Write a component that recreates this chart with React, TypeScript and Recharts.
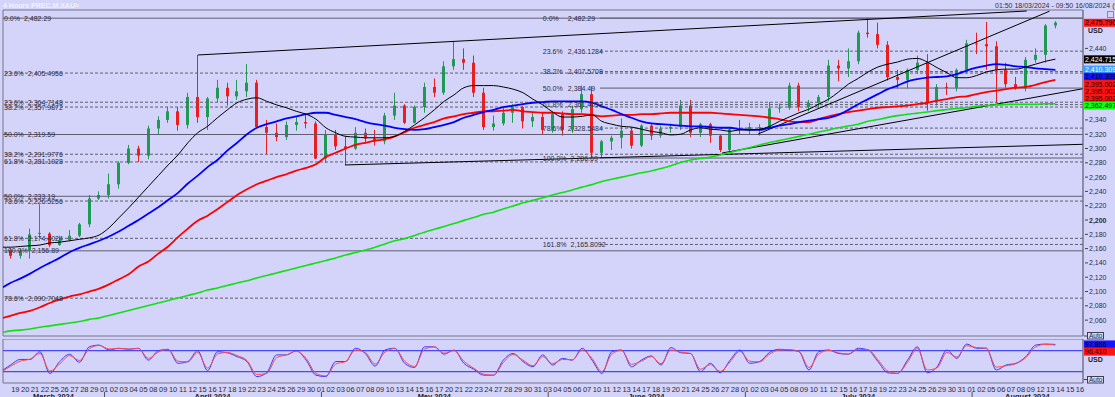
import React from 'react';
import {
  ComposedChart,
  LineChart,
  Line,
  Bar,
  XAxis,
  YAxis,
  ReferenceLine,
  ReferenceDot,
  ReferenceArea,
} from 'recharts';

const BG = '#d4d4fa';
const FONT = '"Liberation Sans", Arial, sans-serif';
const FRAME = '#74748a';
const LEVEL = '#5e5e70';
const TEXT = '#2c2c38';
const UP = '#1f9a55';
const DOWN = '#ee1c1c';

// ---- trading days (day of month) ----
const marchDays = [18, 19, 20, 21, 22, 25, 26, 27, 28, 29];
const aprilDays = [1, 2, 3, 4, 5, 8, 9, 10, 11, 12, 15, 16, 17, 18, 19, 22, 23, 24, 25, 26, 29, 30];
const mayDays = [1, 2, 3, 6, 7, 8, 9, 10, 13, 14, 15, 16, 17, 20, 21, 22, 23, 24, 27, 28, 29, 30, 31];
const juneDays = [3, 4, 5, 6, 7, 10, 11, 12, 13, 14, 17, 18, 19, 20, 21, 24, 25, 26, 27, 28];
const julyDays = [1, 2, 3, 4, 5, 8, 9, 10, 11, 12, 15, 16, 17, 18, 19, 22, 23, 24, 25, 26, 29, 30, 31];
const augustDays = [1, 2, 5, 6, 7, 8, 9, 12, 13, 14, 15, 16];
const monthNames = ['March 2024', 'April 2024', 'May 2024', 'June 2024', 'July 2024', 'August 2024'];

// ---- daily OHLC (Mar 18 .. Aug 13) ----
const opens = [
  2158, 2150, 2157, 2181, 2181, 2165, 2172, 2178, 2194, 2230,
  2235, 2250, 2280, 2300, 2290, 2328, 2340, 2352, 2333, 2372,
  2344, 2370, 2385, 2373, 2380, 2392, 2330, 2322, 2316, 2333,
  2337, 2335, 2286, 2320, 2303, 2300, 2322, 2314, 2310, 2346,
  2360, 2336, 2358, 2386, 2378, 2415, 2425, 2420, 2378, 2330,
  2335, 2350, 2358, 2338, 2344, 2326, 2348, 2326, 2355, 2376,
  2294, 2310, 2315, 2325, 2304, 2332, 2318, 2328, 2330, 2360,
  2322, 2334, 2318, 2298, 2327, 2326, 2330, 2330, 2356, 2357,
  2388, 2358, 2364, 2372, 2416, 2412, 2422, 2462, 2460, 2445,
  2400, 2396, 2410, 2420, 2365, 2386, 2385, 2410, 2447, 2446,
  2443, 2410, 2390, 2384, 2424, 2431, 2472,
];
const highs = [
  2160, 2160, 2188, 2222, 2183, 2178, 2186, 2196, 2235, 2240,
  2265, 2282, 2305, 2304, 2332, 2345, 2358, 2358, 2378, 2431,
  2372, 2396, 2392, 2396, 2418, 2396, 2340, 2335, 2338, 2345,
  2347, 2338, 2326, 2326, 2318, 2330, 2328, 2326, 2350, 2378,
  2362, 2360, 2392, 2398, 2422, 2450, 2440, 2430, 2385, 2346,
  2358, 2362, 2360, 2350, 2350, 2352, 2352, 2360, 2388, 2387,
  2312, 2318, 2342, 2330, 2334, 2334, 2332, 2335, 2368, 2368,
  2336, 2336, 2320, 2330, 2340, 2336, 2334, 2365, 2363, 2392,
  2392, 2368, 2375, 2424, 2424, 2440, 2465, 2483, 2476, 2450,
  2410, 2412, 2430, 2432, 2390, 2392, 2412, 2452, 2462, 2477,
  2450, 2420, 2400, 2428, 2440, 2474, 2478,
];
const lows = [
  2146, 2146, 2146, 2175, 2162, 2164, 2170, 2176, 2190, 2228,
  2230, 2244, 2278, 2281, 2285, 2320, 2336, 2325, 2328, 2336,
  2326, 2365, 2360, 2368, 2372, 2328, 2292, 2310, 2312, 2325,
  2328, 2285, 2280, 2298, 2277, 2298, 2308, 2304, 2306, 2340,
  2334, 2335, 2350, 2372, 2375, 2410, 2410, 2372, 2326, 2325,
  2332, 2336, 2328, 2330, 2320, 2322, 2318, 2322, 2350, 2287,
  2287, 2298, 2300, 2300, 2302, 2312, 2315, 2322, 2326, 2316,
  2316, 2308, 2295, 2296, 2320, 2320, 2318, 2328, 2350, 2354,
  2352, 2352, 2356, 2366, 2394, 2400, 2418, 2455, 2440, 2395,
  2384, 2384, 2405, 2353, 2360, 2375, 2380, 2405, 2432, 2410,
  2364, 2385, 2382, 2380, 2420, 2420, 2468,
];
const closes = [
  2150, 2157, 2180, 2182, 2165, 2172, 2178, 2194, 2230, 2235,
  2250, 2280, 2300, 2290, 2328, 2340, 2352, 2333, 2372, 2344,
  2370, 2385, 2373, 2380, 2392, 2330, 2322, 2316, 2333, 2337,
  2335, 2286, 2320, 2303, 2300, 2322, 2314, 2310, 2346, 2360,
  2336, 2358, 2386, 2378, 2415, 2425, 2420, 2378, 2330, 2335,
  2350, 2358, 2338, 2344, 2326, 2348, 2326, 2355, 2376, 2294,
  2310, 2315, 2325, 2304, 2332, 2318, 2328, 2330, 2360, 2322,
  2334, 2318, 2298, 2327, 2326, 2330, 2330, 2356, 2357, 2388,
  2358, 2364, 2372, 2416, 2412, 2422, 2462, 2460, 2445, 2400,
  2396, 2410, 2420, 2365, 2386, 2385, 2410, 2447, 2446, 2443,
  2410, 2390, 2384, 2424, 2431, 2472, 2476,
];

// ---- moving averages (read at each day) ----
const maBlack = [
  2162, 2163, 2164, 2165, 2168, 2169, 2171, 2173, 2175, 2179,
  2189, 2203, 2217, 2232, 2247, 2262, 2277, 2291, 2308, 2322,
  2331, 2343, 2354, 2364, 2369, 2371, 2366, 2361, 2357, 2352,
  2348, 2341, 2329, 2322, 2317, 2316, 2315, 2315, 2315, 2317,
  2324, 2333, 2343, 2354, 2366, 2375, 2385, 2388, 2388, 2388,
  2386, 2383, 2378, 2369, 2361, 2351, 2344, 2344, 2345, 2347,
  2338, 2334, 2331, 2330, 2327, 2324, 2322, 2319, 2320, 2326,
  2329, 2327, 2326, 2324, 2326, 2326, 2327, 2331, 2338, 2344,
  2350, 2355, 2362, 2369, 2379, 2390, 2398, 2407, 2414, 2418,
  2421, 2425, 2426, 2421, 2413, 2406, 2399, 2399, 2402, 2407,
  2410, 2411, 2411, 2414, 2418, 2422, 2425,
];
const maBlue = [
  2112, 2118, 2125, 2133, 2140, 2147, 2155, 2161, 2166, 2171,
  2177, 2184, 2192, 2200, 2209, 2218, 2228, 2238, 2251, 2262,
  2274, 2284, 2297, 2308, 2320, 2329, 2334, 2338, 2342, 2345,
  2348, 2350, 2350, 2347, 2344, 2341, 2337, 2334, 2332, 2329,
  2327, 2326, 2327, 2330, 2333, 2337, 2343, 2347, 2351, 2354,
  2358, 2360, 2362, 2364, 2365, 2366, 2366, 2366, 2366, 2364,
  2359, 2354, 2348, 2343, 2338, 2335, 2334, 2333, 2332, 2331,
  2331, 2330, 2329, 2329, 2327, 2326, 2326, 2329, 2332, 2334,
  2337, 2339, 2341, 2343, 2347, 2354, 2362, 2369, 2376, 2383,
  2388, 2394, 2397, 2399, 2400, 2401, 2404, 2409, 2413, 2416,
  2418, 2417, 2415, 2414, 2412, 2411, 2410,
];
const maRed = [
  2066, 2070, 2073, 2078, 2084, 2089, 2093, 2096, 2100, 2104,
  2110, 2117, 2124, 2135, 2142, 2153, 2163, 2176, 2188, 2199,
  2206, 2215, 2225, 2235, 2243, 2250, 2255, 2260, 2264, 2269,
  2273, 2278, 2288, 2294, 2300, 2305, 2308, 2311, 2313, 2317,
  2323, 2329, 2333, 2337, 2342, 2345, 2348, 2350, 2352, 2352,
  2353, 2354, 2352, 2351, 2350, 2350, 2349, 2348, 2348, 2347,
  2345, 2346, 2347, 2347, 2348, 2348, 2349, 2350, 2350, 2350,
  2350, 2350, 2349, 2348, 2347, 2346, 2345, 2343, 2341, 2338,
  2337, 2337, 2341, 2345, 2348, 2351, 2353, 2355, 2357, 2358,
  2359, 2360, 2362, 2364, 2367, 2369, 2372, 2373, 2376, 2379,
  2381, 2383, 2385, 2386, 2389, 2393, 2396,
];
const maGreen = [
  2045, 2046, 2047.5, 2050, 2052, 2054, 2056, 2058, 2061, 2063,
  2066.5, 2070, 2073.5, 2077, 2080.5, 2084, 2087.5, 2091, 2094.5, 2098,
  2102, 2105, 2108.5, 2112, 2115, 2119, 2122.5, 2126, 2129.5, 2133,
  2136.5, 2140, 2143.5, 2147, 2151, 2154.5, 2158, 2162, 2166.5, 2171,
  2174, 2178.5, 2183, 2187, 2191, 2195, 2199.5, 2203.5, 2208, 2211,
  2215.5, 2219.5, 2224, 2227.5, 2231, 2235, 2238.5, 2242, 2246, 2249.5,
  2254, 2257, 2260, 2263, 2266, 2268.5, 2272, 2276, 2280.5, 2284,
  2286, 2288, 2291, 2294.5, 2298, 2301.5, 2305, 2308.5, 2311, 2314,
  2317, 2320, 2323, 2326, 2329, 2331.5, 2334, 2338, 2340.5, 2343.5,
  2346, 2348, 2349.5, 2351, 2353, 2354.5, 2356, 2357, 2359, 2360,
  2361, 2361.5, 2362, 2362, 2362, 2362.5, 2362.5,
];
// values of the averages where they meet the left edge of the frame
const edgeBlack = 2162;
const edgeBlue = 2106;
const edgeRed = 2063;
const edgeGreen = 2043;

// ---- stochastic oscillator ----
const stochK = [
  39, 55, 55, 77, 15, 49, 70, 47, 91, 96,
  82, 87, 84, 87, 53, 80, 84, 44, 49, 80,
  23, 77, 74, 63, 49, 6, 17, 68, 68, 80,
  53, 10, 6, 49, 49, 87, 72, 36, 82, 87,
  44, 32, 91, 91, 70, 82, 44, 27, 10, 10,
  53, 72, 49, 34, 68, 39, 58, 53, 87, 53,
  15, 77, 82, 34, 53, 65, 39, 89, 74, 72,
  20, 44, 17, 53, 82, 44, 49, 75, 84, 82,
  77, 25, 77, 82, 72, 70, 87, 82, 49, 17,
  15, 53, 91, 17, 34, 82, 58, 99, 87, 87,
  25, 39, 44, 63, 96, 99, 98,
];
const stochD = [
  35, 50, 56, 72, 22, 42, 66, 52, 85, 95,
  85, 86, 85, 86, 58, 76, 84, 50, 48, 75,
  30, 70, 75, 66, 52, 12, 15, 60, 68, 78,
  58, 15, 8, 42, 49, 82, 75, 42, 76, 86,
  50, 35, 84, 91, 73, 80, 50, 30, 13, 10,
  46, 69, 53, 37, 63, 43, 55, 54, 82, 58,
  20, 70, 81, 41, 50, 63, 43, 82, 76, 72,
  27, 40, 21, 48, 78, 50, 48, 70, 82, 83,
  78, 32, 70, 81, 74, 70, 84, 83, 54, 22,
  15, 47, 86, 25, 31, 75, 62, 94, 89, 87,
  33, 37, 43, 60, 91, 98, 96,
];
const edgeK = 25;
const edgeD = 22;
const stochLevels = [80, 20];

// ---- axis ticks ----
const priceTicks = [2440, 2340, 2320, 2300, 2280, 2260, 2240, 2220, 2200, 2180, 2160, 2140, 2120, 2100, 2080, 2060];

// ---- fibonacci retracements ----
const fibMainPct = ['0.0%', '23.6%', '38.2%', '50.0%', '61.8%', '78.6%', '100.0%'];
const fibMainVal = [2482.29, 2405.4956, 2357.9872, 2319.59, 2281.1928, 2226.5256, 2156.89];
const fibMainTxt = ['2,482.29', '2,405.4956', '2,357.9872', '2,319.59', '2,281.1928', '2,226.5256', '2,156.89'];
const fibSecPct = ['23.6%', '38.2%', '50.0%', '61.8%', '78.6%'];
const fibSecVal = [2364.7148, 2291.9776, 2233.19, 2174.4024, 2090.7048];
const fibSecTxt = ['2,364.7148', '2,291.9776', '2,233.19', '2,174.4024', '2,090.7048'];
const fibMidPct = ['0.0%', '23.6%', '38.2%', '50.0%', '61.8%', '78.6%', '100.0%', '161.8%'];
const fibMidVal = [2482.29, 2436.1284, 2407.5708, 2384.49, 2361.4092, 2328.5484, 2286.69, 2165.8092];
const fibMidTxt = ['2,482.29', '2,436.1284', '2,407.5708', '2,384.49', '2,361.4092', '2,328.5484', '2,286.69', '2,165.8092'];

// ---- trend lines: [day1, price1, day2, price2] ----
const trendLines = [
  [19.53, 2430.8, 103.6, 2492.3],
  [76.34, 2320.3, 105.9, 2492.0],
  [72.69, 2293.7, 109.3, 2383.6],
  [34.44, 2277.0, 109.3, 2305.9],
];

// ---- price flags on the right scale ----
const priceFlagVal = [2475.79, 2424.7155, 2410.3095, 2410.3095, 2395.0026, 2395.0026, 2395.0026, 2362.4977];
const priceFlagTxt = ['2,475.790', '2,424.7155', '2,410.3095', '2,410.3095', '2,395.0026', '2,395.0026', '2,395.0026', '2,362.4977'];
const priceFlagBg = ['#ff1414', '#000000', '#3a9cff', '#1414ff', '#ff1414', '#ff1414', '#ff1414', '#14ff14'];
const priceFlagFg = ['#1a0000', '#ffffff', '#ffffff', '#00001a', '#1a0000', '#1a0000', '#1a0000', '#001a00'];
const oscFlagVal = [97.866, 96.41];
const oscFlagTxt = ['97.866', '96.410'];
const oscFlagBg = ['#1414ff', '#ff1414'];
const oscFlagFg = ['#00001a', '#1a0000'];

// ---- layout constants ----
const X_MIN = -0.25;
const X_MAX = 109.3;
const Y_MIN = 2037.8;
const Y_MAX = 2493.7;
const OSC_MIN = -12.3;
const OSC_MAX = 113.4;
const MAIN_PLOT_H = 326;
const OSC_PLOT_H = 44;
const FLAG_PX = 7.2;

// ---- derived tables ----
const dayLabels: string[] = [];
const monthStart: number[] = [];
[marchDays, aprilDays, mayDays, juneDays, julyDays, augustDays].forEach((list) => {
  monthStart.push(dayLabels.length);
  list.forEach((d) => dayLabels.push(String(d).padStart(2, '0')));
});
const dayTicks = dayLabels.map((_, i) => i).filter((i) => i >= 1);
const monthCenters = monthStart.map((s, m) => {
  const a = m === 0 ? X_MIN : s;
  const b = m === monthStart.length - 1 ? X_MAX : monthStart[m + 1];
  return (a + b) / 2;
});

const priceRows: any[] = [
  { x: X_MIN, black: edgeBlack, blue: edgeBlue, red: edgeRed, green: edgeGreen },
  ...opens.map((o, i) => ({
    x: i + 0.5,
    o,
    h: highs[i],
    l: lows[i],
    c: closes[i],
    black: maBlack[i],
    blue: maBlue[i],
    red: maRed[i],
    green: maGreen[i],
  })),
];
const oscRows = [
  { x: X_MIN, k: edgeK, d: edgeD },
  ...stochK.map((k, i) => ({ x: i + 0.5, k, d: stochD[i] })),
];

function stackValues(vals: number[], gap: number) {
  const out: number[] = [];
  vals.forEach((v, i) => out.push(i === 0 ? v : Math.min(v, out[i - 1] - gap)));
  return out;
}
const priceFlagPos = stackValues(priceFlagVal, (FLAG_PX * (Y_MAX - Y_MIN)) / MAIN_PLOT_H);
const oscFlagPos = stackValues(oscFlagVal, (FLAG_PX * (OSC_MAX - OSC_MIN)) / OSC_PLOT_H);

const textWidth = (s: string) => {
  let w = 0;
  for (const ch of s) w += ch === '%' ? 6.2 : ch === '.' || ch === ',' ? 1.95 : 3.9;
  return w;
};

function Candle(props: any) {
  const { x, y, width, height, payload } = props;
  if (!payload || payload.h == null || !isFinite(y) || !isFinite(height)) return <g />;
  const top = Math.min(y, y + height);
  const span = Math.abs(height);
  const k = payload.h > payload.l ? span / (payload.h - payload.l) : 0;
  const yO = top + (payload.h - payload.o) * k;
  const yC = top + (payload.h - payload.c) * k;
  const color = payload.c >= payload.o ? UP : DOWN;
  const wx = Math.floor(x + width / 2) + 0.5;
  return (
    <g>
      <line x1={wx} x2={wx} y1={top} y2={top + span} stroke={color} strokeWidth={1} />
      <rect x={wx - 1.5} y={Math.min(yO, yC)} width={3} height={Math.max(1, Math.abs(yC - yO))} fill={color} />
    </g>
  );
}

function PriceTick(props: any) {
  const { x, y, payload } = props;
  const v = payload.value as number;
  return (
    <g>
      <line x1={x + 2} x2={x + 5} y1={y} y2={y} stroke="#40404c" />
      <text
        x={x + 6}
        y={y + 2.5}
        fontSize={7}
        fontFamily={FONT}
        fontWeight={v === 2200 ? 'bold' : 'normal'}
        fill={TEXT}
      >
        {v.toLocaleString('en-US')}
      </text>
    </g>
  );
}

function DayTick(props: any) {
  const { x, y, payload } = props;
  const i = payload.value as number;
  return (
    <g>
      <text x={x} y={y + 8.5} textAnchor="middle" fontSize={7.5} fontFamily={FONT} fill={TEXT}>
        {dayLabels[i]}
      </text>
      {monthStart.includes(i) ? <line x1={x + 0.5} x2={x + 0.5} y1={y + 9} y2={y + 15} stroke="#50505c" /> : null}
    </g>
  );
}

function MonthTick(props: any) {
  const { x, y, index } = props;
  return (
    <text x={x} y={y + 7} textAnchor="middle" fontSize={7.5} fontWeight="bold" fontFamily={FONT} fill="#202028">
      {monthNames[index]}
    </text>
  );
}

function fibLabel(pct: string, txt: string, dxPct: number, minCol: number) {
  return (p: any) => {
    const px = p.cx + dxPct;
    const vx = Math.max(px + minCol, px + textWidth(pct) + 4);
    return (
      <g>
        <text x={px} y={p.cy + 2.5} fontSize={7} fontFamily={FONT} fill={TEXT}>
          {pct}
        </text>
        <text x={vx} y={p.cy + 2.5} fontSize={7} fontFamily={FONT} fill={TEXT}>
          {txt}
        </text>
      </g>
    );
  };
}

function flagShape(txt: string, bg: string, fg: string) {
  return (p: any) => (
    <g>
      <rect x={p.cx + 1} y={p.cy - 4} width={40} height={8} fill={bg} />
      <text x={p.cx + 2} y={p.cy + 2.6} fontSize={7} fontFamily={FONT} fill={fg}>
        {txt}
      </text>
    </g>
  );
}

const FIB2_START = 60.3;

export default function App() {
  return (
    <div
      style={{
        position: 'absolute',
        left: 0,
        top: 0,
        width: 1115,
        height: 397,
        background: BG,
        overflow: 'hidden',
        fontFamily: FONT,
      }}
    >
      <div style={{ position: 'absolute', left: 0, top: 0 }}>
        <ComposedChart width={1115} height={339} data={priceRows} margin={{ top: 10, right: 0, bottom: 3, left: 3 }}>
          <XAxis dataKey="x" type="number" domain={[X_MIN, X_MAX]} hide allowDataOverflow />
          <YAxis
            orientation="right"
            width={32}
            domain={[Y_MIN, Y_MAX]}
            ticks={priceTicks}
            interval={0}
            tick={<PriceTick />}
            tickSize={0}
            tickMargin={0}
            tickLine={false}
            axisLine={{ stroke: FRAME }}
            allowDataOverflow
          />
          <ReferenceArea x1={X_MIN} x2={X_MAX} y1={Y_MIN} y2={Y_MAX} fill="none" stroke={FRAME} ifOverflow="visible" />

          {fibMainVal.map((v, i) => (
            <ReferenceLine
              key={`fa${i}`}
              y={v}
              stroke={LEVEL}
              strokeDasharray={fibMainPct[i] === '0.0%' || fibMainPct[i] === '50.0%' || fibMainPct[i] === '100.0%' ? undefined : '3 2'}
              ifOverflow="visible"
            />
          ))}
          {fibSecVal.map((v, i) => (
            <ReferenceLine
              key={`fb${i}`}
              y={v}
              stroke={LEVEL}
              strokeDasharray={fibSecPct[i] === '50.0%' ? undefined : '3 2'}
              ifOverflow="visible"
            />
          ))}
          {fibMidVal.map((v, i) => (
            <ReferenceLine
              key={`fm${i}`}
              segment={[
                { x: FIB2_START, y: v },
                { x: X_MAX, y: v },
              ]}
              stroke={LEVEL}
              strokeDasharray={fibMidPct[i] === '0.0%' || fibMidPct[i] === '50.0%' || fibMidPct[i] === '100.0%' ? undefined : '3 2'}
              ifOverflow="visible"
            />
          ))}

          {fibMainVal.map((v, i) => (
            <ReferenceDot
              key={`la${i}`}
              x={X_MIN}
              y={v}
              r={0}
              ifOverflow="visible"
              shape={fibLabel(fibMainPct[i], fibMainTxt[i], 1, 18)}
            />
          ))}
          {fibSecVal.map((v, i) => (
            <ReferenceDot
              key={`lb${i}`}
              x={X_MIN}
              y={v}
              r={0}
              ifOverflow="visible"
              shape={fibLabel(fibSecPct[i], fibSecTxt[i], 1, 18)}
            />
          ))}
          {fibMidVal.map((v, i) => (
            <ReferenceDot
              key={`lm${i}`}
              x={54.0}
              y={v}
              r={0}
              ifOverflow="visible"
              shape={fibLabel(fibMidPct[i], fibMidTxt[i], 5, 25)}
            />
          ))}

          {trendLines.map((t, i) => (
            <ReferenceLine
              key={`t${i}`}
              segment={[
                { x: t[0], y: t[1] },
                { x: t[2], y: t[3] },
              ]}
              stroke="#000000"
              strokeWidth={1}
              ifOverflow="visible"
            />
          ))}

          <Bar
            dataKey={(d: any) => [d.l, d.h]}
            barSize={3}
            shape={(p: any) => <Candle {...p} />}
            isAnimationActive={false}
          />

          <Line dataKey="green" type="monotone" stroke="#10e010" strokeWidth={1.6} dot={false} activeDot={false} isAnimationActive={false} />
          <Line dataKey="red" type="monotone" stroke="#ff0000" strokeWidth={1.8} dot={false} activeDot={false} isAnimationActive={false} />
          <Line dataKey="blue" type="monotone" stroke="#0000ff" strokeWidth={1.8} dot={false} activeDot={false} isAnimationActive={false} />
          <Line dataKey="black" type="monotone" stroke="#000000" strokeWidth={1} dot={false} activeDot={false} isAnimationActive={false} />

          {priceFlagPos.map((v, i) => (
            <ReferenceDot
              key={`pf${i}`}
              x={X_MAX}
              y={v}
              r={0}
              ifOverflow="visible"
              shape={flagShape(priceFlagTxt[i], priceFlagBg[i], priceFlagFg[i])}
            />
          ))}
        </ComposedChart>
      </div>

      <div style={{ position: 'absolute', left: 0, top: 339 }}>
        <LineChart width={1115} height={58} data={oscRows} margin={{ top: 0, right: 0, bottom: 0, left: 3 }}>
          <XAxis
            dataKey="x"
            type="number"
            domain={[X_MIN, X_MAX]}
            ticks={dayTicks}
            interval={0}
            tick={<DayTick />}
            tickSize={0}
            tickMargin={0}
            tickLine={false}
            axisLine={false}
            height={9}
            allowDataOverflow
          />
          <XAxis
            xAxisId="m"
            dataKey="x"
            type="number"
            domain={[X_MIN, X_MAX]}
            ticks={monthCenters}
            interval={0}
            tick={<MonthTick />}
            tickSize={0}
            tickMargin={0}
            tickLine={false}
            axisLine={false}
            height={5}
            allowDataOverflow
          />
          <YAxis
            orientation="right"
            width={32}
            domain={[OSC_MIN, OSC_MAX]}
            tick={false}
            tickLine={false}
            axisLine={{ stroke: FRAME }}
            allowDataOverflow
          />
          <ReferenceArea x1={X_MIN} x2={X_MAX} y1={OSC_MIN} y2={OSC_MAX} fill="none" stroke={FRAME} ifOverflow="visible" />
          {stochLevels.map((v) => (
            <ReferenceLine key={`sl${v}`} y={v} stroke="#4848ff" strokeWidth={1.3} ifOverflow="visible" />
          ))}
          <Line dataKey="k" type="monotone" stroke="#3a3aff" strokeWidth={1} dot={false} activeDot={false} isAnimationActive={false} />
          <Line dataKey="d" type="monotone" stroke="#ff4a4a" strokeWidth={1} dot={false} activeDot={false} isAnimationActive={false} />
          {oscFlagPos.map((v, i) => (
            <ReferenceDot
              key={`of${i}`}
              x={X_MAX}
              y={v}
              r={0}
              ifOverflow="visible"
              shape={flagShape(oscFlagTxt[i], oscFlagBg[i], oscFlagFg[i])}
            />
          ))}
        </LineChart>
      </div>

      <svg width={1115} height={397} style={{ position: 'absolute', left: 0, top: 0, pointerEvents: 'none' }}>
        <text x={3} y={8} fontSize={7} fontWeight="bold" fontFamily={FONT} fill="#f2f2ff">
          4 Hours PREC.M.XAU=
        </text>
        <text x={995} y={8} fontSize={7} fontFamily={FONT} fill="#30303c">
          01:50 18/03/2024 - 09:50 16/08/2024 (GMT)
        </text>
        <rect x={1107.5} y={11.5} width={6} height={6} fill="none" stroke="#8a8a9a" />
        <text x={1088} y={32.5} fontSize={7} fontWeight="bold" fontFamily={FONT} fill="#202028">
          USD
        </text>
        <line x1={1084} x2={1087} y1={336} y2={336} stroke="#40404c" />
        <rect x={1087.5} y={332.5} width={16} height={6.5} fill="#dcdcf4" stroke="#40404c" />
        <text x={1089} y={338} fontSize={6.5} fontFamily={FONT} fill="#202028">
          Auto
        </text>
        <text x={1088} y={361.5} fontSize={7} fontWeight="bold" fontFamily={FONT} fill="#202028">
          USD
        </text>
        <line x1={1084} x2={1087} y1={379.5} y2={379.5} stroke="#40404c" />
        <rect x={1087.5} y={376.5} width={16} height={6.5} fill="#dcdcf4" stroke="#40404c" />
        <text x={1089} y={382} fontSize={6.5} fontFamily={FONT} fill="#202028">
          Auto
        </text>
      </svg>
    </div>
  );
}
